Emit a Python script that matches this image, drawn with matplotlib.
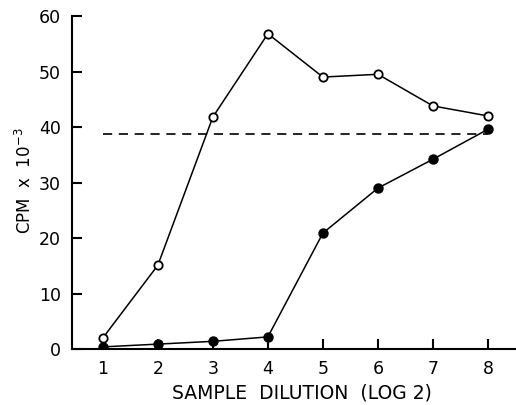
import matplotlib
matplotlib.use('Agg')
import matplotlib.pyplot as plt

dilution = [1, 2, 3, 4, 5, 6, 7, 8]
open_cpm = [2.0, 15.1, 41.8, 56.8, 49.0, 49.5, 43.8, 42.0]
filled_cpm = [0.4, 0.9, 1.4, 2.2, 20.9, 29.0, 34.2, 39.6]
ref_level = 38.7
ref_x = [1, 8]

plt.rcParams['font.family'] = ['DejaVu Sans']

fig = plt.figure(figsize=(5.16, 4.05), dpi=100)
ax = fig.add_axes([0.1395, 0.138, 0.8585, 0.8225])

ax.plot(ref_x, [ref_level, ref_level], color='black', lw=1.2, ls=(0, (5.5, 4)))
ax.plot(dilution, open_cpm, color='black', lw=1.1, marker='o', ms=6,
        mfc='white', mec='black', mew=1.3, zorder=3)
ax.plot(dilution, filled_cpm, color='black', lw=1.1, marker='o', ms=6.5,
        mfc='black', mec='black', zorder=3)

ax.set_xlim(0.44, 8.49)
ax.set_ylim(0, 60)
ax.set_xticks(dilution)
ax.set_yticks([0, 10, 20, 30, 40, 50, 60])

for s in ['top', 'right']:
    ax.spines[s].set_visible(False)
for s in ['left', 'bottom']:
    ax.spines[s].set_linewidth(1.5)

ax.tick_params(direction='in', length=7, width=1.5, labelsize=12.5, pad=8)

# axis titles placed by hand to sit where the original has them
fig.text(302 / 516, 12 / 405, 'SAMPLE  DILUTION  (LOG 2)', fontsize=13.5,
         ha='center', va='center')
fig.text(25 / 516, 224 / 405, r'CPM  x  10$^{-3}$', fontsize=12,
         rotation=90, ha='center', va='center')

fig.savefig('out.png', dpi=100)
